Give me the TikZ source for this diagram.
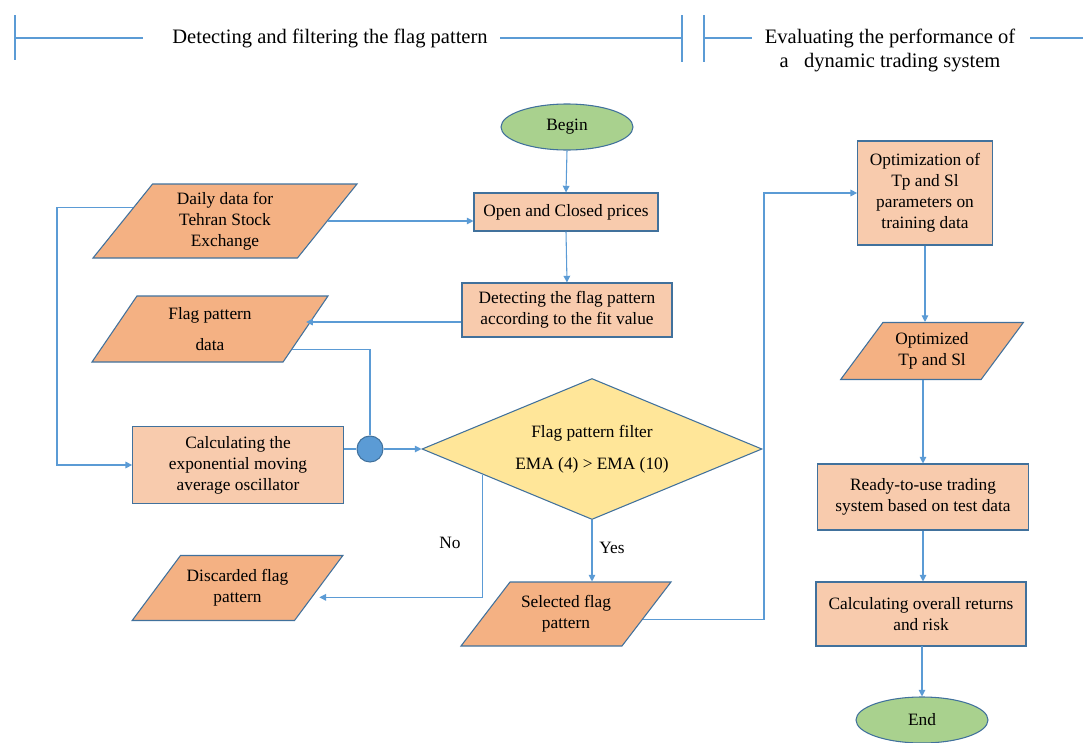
\documentclass[tikz,border=0pt]{standalone}
\usepackage{fontspec}
\setmainfont{Liberation Serif}
\usetikzlibrary{arrows.meta,calc,shapes.geometric}

\definecolor{edgeblue}{HTML}{41719C}
\definecolor{lineblue}{HTML}{5B9BD5}
\definecolor{boxfill}{HTML}{F8CBAD}
\definecolor{iofill}{HTML}{F4B183}
\definecolor{testfill}{HTML}{FFE699}
\definecolor{termfill}{HTML}{A9D18E}

\begin{document}
\begin{tikzpicture}[x=0.75pt,y=-0.75pt,>={Triangle[length=5pt,width=5pt]},
    every node/.style={font=\fontsize{13}{15.75}\selectfont,align=center},
    headtext/.style={font=\fontsize{15.4}{18}\selectfont},
    procbox/.style={draw=edgeblue,line width=.8pt,fill=boxfill,
      rectangle,inner sep=2pt},
    iobox/.style={draw=edgeblue,line width=.8pt,fill=iofill,trapezium,
      trapezium left angle=#1,trapezium right angle=180-#1,
      trapezium stretches body,inner sep=1pt},
    termbox/.style={draw=edgeblue,line width=.8pt,fill=termfill,ellipse,
      minimum width=99pt,minimum height=34.5pt,inner sep=0pt},
    flow/.style={draw=lineblue,line width=.8pt},
    hline/.style={draw=lineblue,line width=.8pt}]
    \useasboundingbox (0,0) rectangle (1083,743);

    % header with the two stages
    \node[headtext] (hdrL) at (330,38) {Detecting and filtering the flag pattern};
    \node[headtext] (hdrR) at (890,50) {Evaluating the performance of\\
      a\ \ \ dynamic trading system};
    \coordinate (tickL) at (15,38);
    \coordinate (tickM1) at (682,38);
    \coordinate (tickM2) at (704,38);
    \draw[hline] (15,15) -- (15,60);
    \draw[hline] (682,15) -- (682,62);
    \draw[hline] (704,15) -- (704,62);
    \draw[hline] (tickL) -- (143,38);
    \draw[hline] (500,38) -- (tickM1);
    \draw[hline] (tickM2) -- (752,38);
    \draw[hline] (1030,38) -- (1083,38);

    % left stage: detection and filter
    \node[termbox] (begin) at (567,127) {Begin};
    \node[procbox,minimum width=138pt,minimum height=28.5pt] (open)
      at (566,212) {Open and Closed prices};
    \node[iobox=45.5,minimum width=198pt,minimum height=55.5pt] (daily)
      at (225,221) {Daily data for\\Tehran Stock\\Exchange};
    \node[procbox,minimum width=157.5pt,minimum height=40.5pt] (detect)
      at (567,310) {Detecting the flag pattern\\according to the fit value};
    \node[iobox=46,minimum width=177pt,minimum height=49.5pt] (flagd)
      at (210,329) {Flag pattern\\[8pt]data};
    \node[procbox,minimum width=158pt,minimum height=57.75pt] (ema)
      at (238,465) {Calculating the\\exponential moving\\average oscillator};
    \node[circle,draw=edgeblue,line width=.8pt,fill=lineblue,
      minimum size=19.5pt,inner sep=0pt] (join) at (370,449) {};
    \node[diamond,draw=edgeblue,line width=.8pt,fill=testfill,
      shape aspect=2.4,inner sep=0pt,minimum width=255pt,
      minimum height=105.75pt] (filter) at (592,449)
      {Flag pattern filter\\[8pt]EMA (4) > EMA (10)};
    \node[iobox=39.3,minimum width=158pt,minimum height=48.75pt] (disc)
      at (237.5,588) {Discarded flag\\pattern};
    \node[iobox=38.9,minimum width=157.5pt,minimum height=48pt] (sel)
      at (566,614) {Selected flag\\pattern};
    \node (no) at (450,543) {No};
    \node (yes) at (612,548) {Yes};

    % right stage: evaluation
    \node[procbox,minimum width=101pt,minimum height=78pt] (opt)
      at (925,193) {Optimization of\\Tp and Sl\\parameters on\\training data};
    \node[iobox=43,minimum width=137pt,minimum height=42.75pt] (optd)
      at (932,351) {Optimized\\Tp and Sl};
    \node[procbox,minimum width=158pt,minimum height=49.5pt] (ready)
      at (923,497) {Ready-to-use trading\\system based on test data};
    \node[procbox,minimum width=157.5pt,minimum height=48pt] (ret)
      at (921,614) {Calculating overall returns\\and risk};
    \node[termbox] (end) at (922,720) {End};

    % connectors
    \coordinate (lbus) at (57,300);
    \coordinate (rbus) at (764,400);
    \draw[flow,->] (begin.south) -- (open.north);
    \draw[flow,->] (daily.east) -- (daily.east -| open.west);
    \draw[flow,->] (open.south) -- (detect.north);
    \draw[flow,->] ([yshift=-9pt]detect.west) -- ([yshift=-9pt]detect.west -| flagd.east);
    \draw[flow] ($(flagd.bottom right corner)!0.2!(flagd.top right corner)$)
      -| (join.north);
    \draw[flow,->] ($(daily.bottom left corner)!0.68!(daily.top left corner)$)
      -| (lbus) |- (ema.west);
    \draw[flow] (join.west -| ema.east) -- (join.west);
    \draw[flow,->] (join.east) -- (filter.west);
    \draw[flow,->] ($(filter.west)!0.36!(filter.south)$)
      |- ([yshift=-7pt]disc.east);
    \draw[flow,->] (filter.south) -- (filter.south |- sel.north);
    \draw[flow,->] ($(sel.bottom right corner)!0.42!(sel.top right corner)$)
      -| (rbus) |- (opt.west);
    \draw[flow,->] (opt.south) -- (opt.south |- optd.north);
    \draw[flow,->] (ready.north |- optd.south) -- (ready.north);
    \draw[flow,->] (ready.south) -- (ready.south |- ret.north);
    \draw[flow,->] (ret.south) -- (ret.south -| end.north) -- (end.north);
  \end{tikzpicture}
\end{document}
